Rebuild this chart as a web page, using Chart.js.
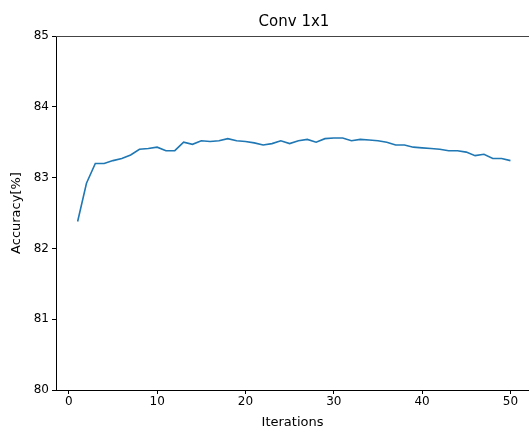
<!DOCTYPE html>
<html>
<head>
<meta charset="utf-8">
<script src="https://cdn.jsdelivr.net/npm/chart.js@4/dist/chart.umd.min.js"></script>
<style>
  html, body { margin: 0; padding: 0; background: #fff; }
  #wrap { width: 529px; height: 430px; }
</style>
</head>
<body>
<div id="wrap"><canvas id="grafico"></canvas></div>
<script>
const iteraciones = Array.from({ length: 50 }, (_, i) => i + 1);
const precision = [
  82.38, 82.92, 83.20, 83.20, 83.24, 83.27, 83.32, 83.40, 83.41, 83.43,
  83.38, 83.38, 83.50, 83.47, 83.52, 83.51, 83.52, 83.55, 83.52, 83.51,
  83.49, 83.46, 83.48, 83.52, 83.48, 83.52, 83.54, 83.50, 83.55, 83.56,
  83.56, 83.52, 83.54, 83.53, 83.52, 83.50, 83.46, 83.46, 83.43, 83.42,
  83.41, 83.40, 83.38, 83.38, 83.36, 83.31, 83.33, 83.27, 83.27, 83.24
];
const ticksX = [0, 10, 20, 30, 40, 50];
const ticksY = [80, 81, 82, 83, 84, 85];

const fuente = "'DejaVu Sans', sans-serif";

// titulo y borde superior, al estilo matplotlib
const extras = {
  id: 'extras',
  afterDraw(chart) {
    const { ctx, chartArea } = chart;
    ctx.save();
    ctx.strokeStyle = '#444';
    ctx.lineWidth = 1;
    ctx.beginPath();
    ctx.moveTo(chartArea.left, chartArea.top + 0.5);
    ctx.lineTo(chartArea.right, chartArea.top + 0.5);
    ctx.stroke();
    ctx.fillStyle = '#000';
    ctx.font = '15px ' + fuente;
    ctx.textAlign = 'center';
    ctx.textBaseline = 'middle';
    ctx.fillText('Conv 1x1', 294, 22);
    ctx.restore();
  }
};

new Chart(document.getElementById('grafico'), {
  type: 'line',
  data: {
    datasets: [{
      data: iteraciones.map((x, i) => ({ x: x, y: precision[i] })),
      borderColor: '#1f77b4',
      borderWidth: 1.6,
      pointRadius: 0,
      tension: 0,
      fill: false
    }]
  },
  options: {
    responsive: true,
    maintainAspectRatio: false,
    animation: false,
    layout: { padding: { top: 36, right: 0, left: 0, bottom: 0 } },
    plugins: { legend: { display: false }, tooltip: { enabled: false } },
    scales: {
      x: {
        type: 'linear',
        min: -1.45,
        max: 52.1,
        afterBuildTicks: s => { s.ticks = ticksX.map(v => ({ value: v })); },
        afterFit: s => { s.height = 40; },
        ticks: { color: '#000', font: { family: fuente, size: 12 }, padding: 1, maxRotation: 0 },
        grid: { drawOnChartArea: false, tickLength: 4, color: '#000', tickColor: '#000' },
        border: { color: '#000', width: 1 },
        title: { display: true, text: 'Iterations', color: '#000', font: { family: fuente, size: 13 }, padding: { top: 1, bottom: 0 } }
      },
      y: {
        min: 80,
        max: 85,
        afterBuildTicks: s => { s.ticks = ticksY.map(v => ({ value: v })); },
        afterFit: s => { s.width = 56; },
        ticks: { color: '#000', font: { family: fuente, size: 12 }, padding: 3 },
        grid: { drawOnChartArea: false, tickLength: 4, color: '#000', tickColor: '#000' },
        border: { color: '#000', width: 1 },
        title: { display: true, text: 'Accuracy[%]', color: '#000', font: { family: fuente, size: 13 }, padding: { top: 9, bottom: 4 } }
      }
    }
  },
  plugins: [extras]
});
</script>
</body>
</html>
